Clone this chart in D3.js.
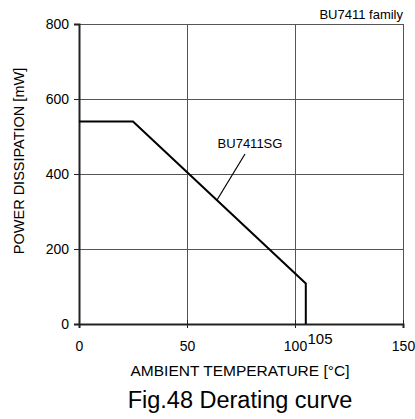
<!DOCTYPE html>
<html><head><meta charset="utf-8">
<script src="https://cdn.jsdelivr.net/npm/d3@7"></script>
<style>body{margin:0;background:#fff}svg{display:block}text{font-family:"Liberation Sans",Arial,sans-serif;fill:#000}</style>
</head><body>
<script>
const tempPoints = [0, 25, 105, 105];
const powerPoints = [540, 540, 108, 0];
const xTicks = [0, 50, 100, 150];
const yTicks = [0, 200, 400, 600, 800];
const seriesLabel = "BU7411SG";

const W = 415, H = 419;
const FONT = "'Liberation Sans',Arial,sans-serif";
const svg = d3.select("body").append("svg").attr("width", W).attr("height", H);
const x = d3.scaleLinear().domain([0, 150]).range([79, 403]);
const y = d3.scaleLinear().domain([0, 800]).range([324, 24]);

// grid
svg.append("g").selectAll("line").data(xTicks.slice(1)).join("line")
  .attr("x1", d => x(d)).attr("x2", d => x(d)).attr("y1", y(0)).attr("y2", y(800))
  .attr("stroke", "#555").attr("stroke-width", 1).attr("shape-rendering", "crispEdges");
svg.append("g").selectAll("line").data(yTicks.slice(1)).join("line")
  .attr("x1", x(0)).attr("x2", x(150)).attr("y1", d => y(d)).attr("y2", d => y(d))
  .attr("stroke", "#555").attr("stroke-width", 1).attr("shape-rendering", "crispEdges");

// axes
const yAxis = d3.axisLeft(y).tickValues(yTicks).tickSize(5).tickPadding(5);
const gy = svg.append("g").attr("transform", `translate(${x(0)},0)`).call(yAxis);
gy.select(".domain").attr("stroke", "#222").attr("stroke-width", 2);
gy.selectAll(".tick line").attr("stroke", "#222");
gy.selectAll("text").attr("font-size", 14).attr("font-family", FONT);

const xAxis = d3.axisBottom(x).tickValues(xTicks).tickSize(4).tickPadding(13);
const gx = svg.append("g").attr("transform", `translate(0,${y(0)})`).call(xAxis);
gx.select(".domain").attr("stroke", "#222").attr("stroke-width", 2);
gx.selectAll(".tick line").attr("stroke", "#222").attr("y1", -4);
gx.selectAll("text").attr("font-size", 14).attr("font-family", FONT);

// curve
const pts = tempPoints.map((t, i) => [x(t), y(powerPoints[i])]);
svg.append("path").attr("d", d3.line()(pts)).attr("fill", "none")
  .attr("stroke", "#000").attr("stroke-width", 2);

// 105 label
svg.append("text").attr("x", 320).attr("y", 343.5).attr("text-anchor", "middle")
  .attr("font-size", 15).text("105");

// series label with leader
svg.append("text").attr("x", 250).attr("y", 147.5).attr("text-anchor", "middle")
  .attr("font-size", 13).text(seriesLabel);
svg.append("line").attr("x1", 245).attr("y1", 154).attr("x2", 217).attr("y2", 200)
  .attr("stroke", "#000").attr("stroke-width", 1.2);

// titles
svg.append("text").attr("x", 403).attr("y", 18.5).attr("text-anchor", "end")
  .attr("font-size", 13).text("BU7411 family");
svg.append("text").attr("x", 240).attr("y", 376).attr("text-anchor", "middle")
  .attr("font-size", 15.5).text("AMBIENT TEMPERATURE [°C]");
svg.append("text").attr("x", 240).attr("y", 407.5).attr("text-anchor", "middle")
  .attr("font-size", 23.5).text("Fig.48 Derating curve");
svg.append("text").attr("transform", "translate(24,161) rotate(-90)").attr("text-anchor", "middle")
  .attr("font-size", 14.5).text("POWER DISSIPATION [mW]");
</script>
</body></html>
